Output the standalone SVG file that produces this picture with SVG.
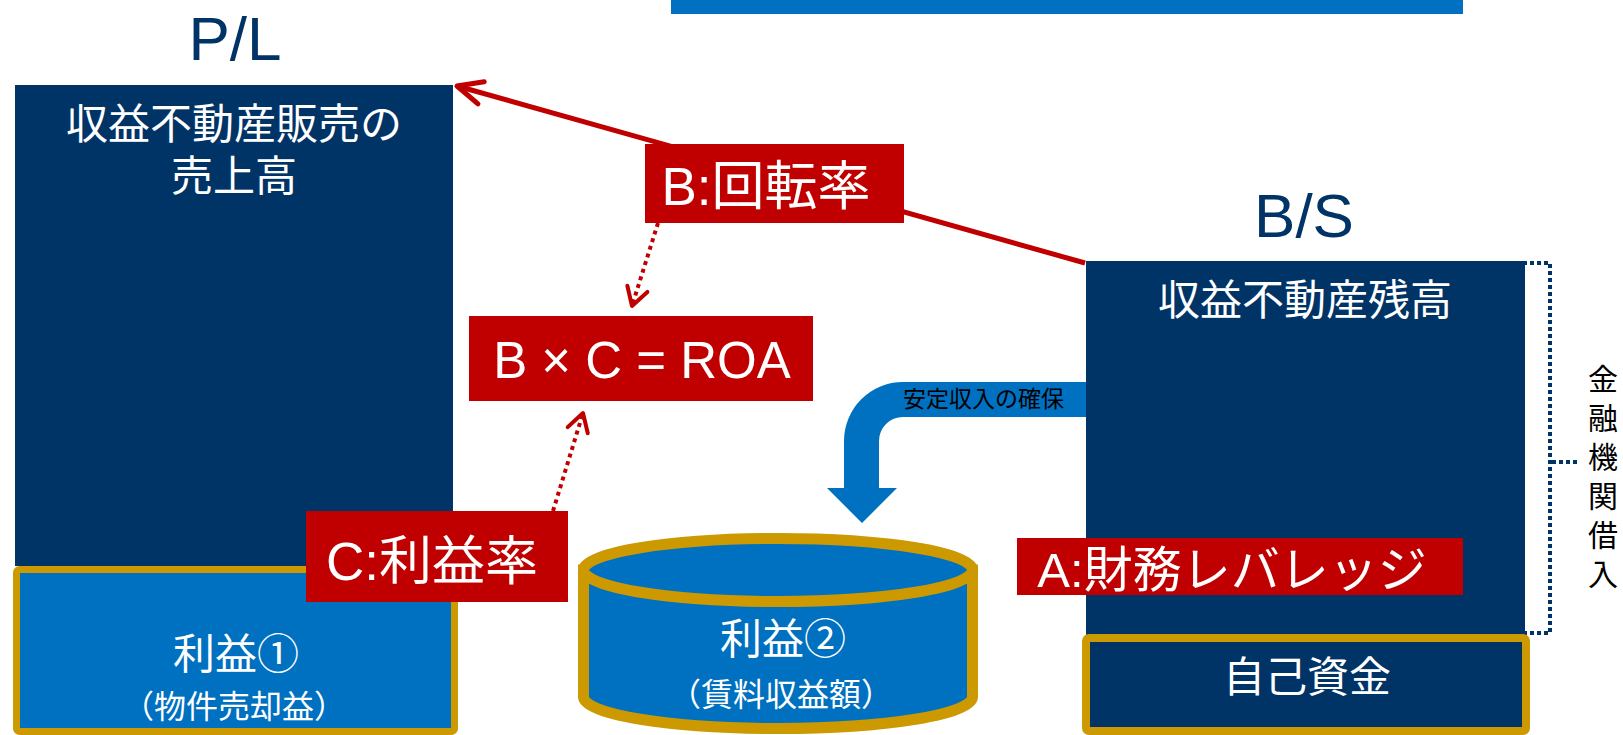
<svg xmlns="http://www.w3.org/2000/svg" width="1623" height="735" viewBox="0 0 1623 735">
<style>
text{font-family:'Liberation Sans','Noto Sans CJK JP',sans-serif}
.navy{fill:#003366}
.red{fill:#C00000}
.wt{fill:#FFFFFF;text-anchor:middle}
.title{fill:#003366;text-anchor:middle;font-size:62px}
.gold{stroke:#CC9900}
.solid{fill:none;stroke:#C00000;stroke-width:5}
.dot{fill:none;stroke:#C00000;stroke-width:4;stroke-dasharray:4 4}
.brk{fill:none;stroke:#003366;stroke-width:4;stroke-dasharray:4 3}
</style>
<defs>
<marker id="headSolid" markerUnits="userSpaceOnUse" orient="auto" refX="0" refY="0" markerWidth="40" markerHeight="40" overflow="visible">
<path d="M-25 -11.5 L0 0 L-25 11.5" fill="none" stroke="#C00000" stroke-width="5" stroke-linecap="round" stroke-linejoin="round"/>
</marker>
<marker id="headDot" markerUnits="userSpaceOnUse" orient="auto" refX="0" refY="0" markerWidth="40" markerHeight="40" overflow="visible">
<path d="M-18 -10.5 L0 0 L-18 10.5" fill="none" stroke="#C00000" stroke-width="4" stroke-dasharray="none" stroke-linecap="round" stroke-linejoin="round"/>
</marker>
</defs>
<rect id="banner" x="671" y="0" width="792" height="14" fill="#0070C0"/>
<g id="connectors">
<line class="solid" x1="1085" y1="263" x2="457" y2="86" marker-end="url(#headSolid)"/>
<line class="dot" x1="658" y1="223" x2="632" y2="306" marker-end="url(#headDot)"/>
<line class="dot" x1="553" y1="511" x2="583" y2="413" marker-end="url(#headDot)"/>
<g id="stableIncome">
<path d="M1090 382 L903 382 A59 59 0 0 0 844 441 L844 488 L827 488 L862 523 L897 488 L879 488 L879 441 A24 24 0 0 1 903 417 L1090 417 Z" fill="#0070C0"/>
<text x="903" y="407" font-size="23" fill="#000000">安定収入の確保</text>
</g>
<g id="loanBracket">
<path class="brk" d="M1523 263 L1550 263 L1550 633 L1525 633 M1552 462 L1578 462"/>
<text x="1603" y="390" font-size="30" fill="#000000" text-anchor="middle"><tspan x="1603">金</tspan><tspan x="1603" dy="39">融</tspan><tspan x="1603" dy="39">機</tspan><tspan x="1603" dy="39">関</tspan><tspan x="1603" dy="39">借</tspan><tspan x="1603" dy="39">入</tspan></text>
</g>
</g>
<g id="plTitle"><text class="title" x="235" y="60">P/L</text></g>
<g id="plSales">
<rect class="navy" x="15" y="85" width="438" height="481"/>
<text class="wt" x="234" y="139" font-size="42">収益不動産販売の</text>
<text class="wt" x="234" y="191" font-size="42">売上高</text>
</g>
<g id="profit1">
<rect x="16.5" y="569.5" width="438" height="162" rx="3" fill="#0070C0" class="gold" stroke-width="7"/>
<text class="wt" x="236" y="669" font-size="42">利益①</text>
<text class="wt" x="234" y="718" font-size="32">（物件売却益）</text>
</g>
<g id="bsTitle"><text class="title" x="1304" y="237">B/S</text></g>
<g id="bsAssets">
<rect class="navy" x="1086" y="261" width="439" height="374"/>
<text class="wt" x="1305" y="315" font-size="42">収益不動産残高</text>
</g>
<g id="equity">
<rect x="1086" y="638" width="440" height="93" rx="3" fill="#003366" class="gold" stroke-width="8"/>
<text class="wt" x="1307" y="692" font-size="42">自己資金</text>
</g>
<g id="profit2">
<path d="M583.5 570 L583.5 697 A194.5 31.5 0 0 0 972.5 697 L972.5 570 Z" fill="#0070C0" class="gold" stroke-width="11"/>
<ellipse cx="778" cy="570" rx="194.5" ry="31.5" fill="#0070C0" class="gold" stroke-width="11"/>
<text class="wt" x="783" y="654" font-size="42">利益②</text>
<text class="wt" x="781" y="706" font-size="32">（賃料収益額）</text>
</g>
<g id="turnover">
<rect class="red" x="645" y="144" width="259" height="79"/>
<text class="wt" x="766" y="205" font-size="53">B:回転率</text>
</g>
<g id="roa">
<rect class="red" x="469" y="316" width="344" height="85"/>
<text class="wt" x="642" y="378" font-size="51">B × C = ROA</text>
</g>
<g id="margin">
<rect class="red" x="306" y="511" width="262" height="91"/>
<text class="wt" x="432" y="580" font-size="53">C:利益率</text>
</g>
<g id="leverage">
<rect class="red" x="1017" y="538" width="446" height="57"/>
<text class="wt" x="1232" y="587" font-size="49">A:財務レバレッジ</text>
</g>
</svg>
